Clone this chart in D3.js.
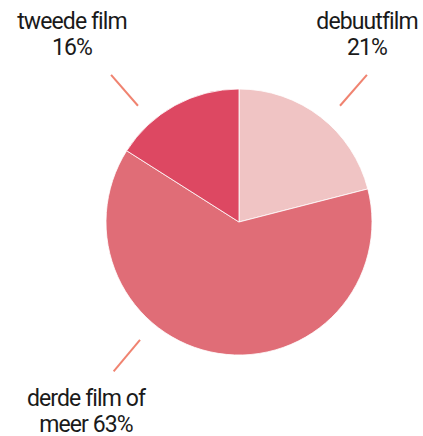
<!DOCTYPE html>
<html>
<head>
<meta charset="utf-8">
<script src="https://cdn.jsdelivr.net/npm/d3@7"></script>
<style>
  body { margin: 0; background: #fff; }
  text { font-family: "Roboto", sans-serif; font-weight: 400; fill: #1a1a1a; letter-spacing: -0.9px; }
</style>
</head>
<body>
<div id="viz"></div>
<script>
// data
var categories = ['debuutfilm', 'derde film of meer', 'tweede film']
var values = [21, 63, 16]
var labelLines = [['debuutfilm', '21%'], ['derde film of', 'meer 63%'], ['tweede film', '16%']]
var colors = ['#f0c4c4', '#e06d77', '#dd4862']

// layout: leader angle (deg, clockwise from top) and label centre per slice
var layout = [
  { angle: 41, lx: 367, ly: 29 },
  { angle: 220, lx: 86, ly: 406 },
  { angle: 319, lx: 72, ly: 29 }
]

var width = 423, height = 436
var cx = 239, cy = 222, r = 133

var svg = d3.select('#viz').append('svg')
  .attr('width', width)
  .attr('height', height)

var pie = d3.pie().sort(null).value(function(d) { return d })
var arc = d3.arc().innerRadius(0).outerRadius(r)

var g = svg.append('g').attr('transform', 'translate(' + cx + ',' + cy + ')')

g.selectAll('path')
  .data(pie(values))
  .enter()
  .append('path')
  .attr('d', arc)
  .attr('fill', function(d, i) { return colors[i] })
  .attr('stroke', '#fff')
  .attr('stroke-width', 0.8)

// leader lines
g.selectAll('line.leader')
  .data(layout)
  .enter()
  .append('line')
  .attr('class', 'leader')
  .attr('x1', function(d) { return 154 * Math.sin(d.angle * Math.PI / 180) })
  .attr('y1', function(d) { return -154 * Math.cos(d.angle * Math.PI / 180) })
  .attr('x2', function(d) { return 195 * Math.sin(d.angle * Math.PI / 180) })
  .attr('y2', function(d) { return -195 * Math.cos(d.angle * Math.PI / 180) })
  .attr('stroke', '#f08370')
  .attr('stroke-width', 2)

// labels
var labels = svg.selectAll('text.label')
  .data(layout)
  .enter()
  .append('text')
  .attr('class', 'label')
  .attr('text-anchor', 'middle')
  .attr('font-size', 23)

labels.each(function(d, i) {
  var t = d3.select(this)
  labelLines[i].forEach(function(line, j) {
    t.append('tspan')
      .attr('x', d.lx)
      .attr('y', d.ly + j * 26)
      .text(line)
  })
})
</script>
</body>
</html>
